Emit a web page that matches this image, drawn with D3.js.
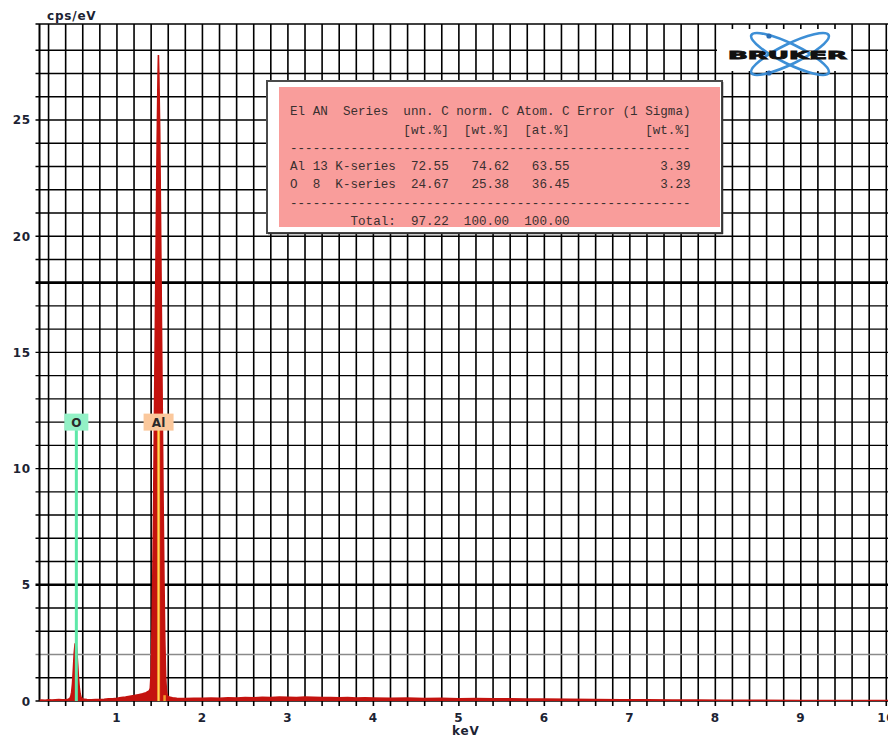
<!DOCTYPE html>
<html><head><meta charset="utf-8">
<script src="https://cdn.jsdelivr.net/npm/d3@7"></script>
<style>body{margin:0;background:#fff}svg{display:block}</style>
</head><body><svg id="c" width="888" height="737"></svg>
<script>
// ---------- DATA ----------
const xTickLabels = [1,2,3,4,5,6,7,8,9,10];
const yTickLabels = [0,5,10,15,20,25];
const spectrum = [
 [0.094,0.03],[0.12,0.04],[0.16,0.03],[0.2,0.05],[0.24,0.04],[0.28,0.05],[0.32,0.06],[0.36,0.05],[0.4,0.06],[0.43,0.07],
 [0.45,0.12],[0.46,0.2],[0.47,0.38],[0.48,0.75],[0.49,1.35],[0.5,2.05],[0.51,2.45],[0.52,2.5],[0.53,2.2],[0.54,1.6],
 [0.55,1.0],[0.56,0.55],[0.57,0.3],[0.58,0.16],[0.6,0.08],[0.65,0.06],[0.7,0.05],[0.75,0.06],[0.8,0.06],[0.85,0.07],
 [0.9,0.09],[0.95,0.1],[1.0,0.12],[1.05,0.15],[1.1,0.17],[1.15,0.2],[1.2,0.23],[1.25,0.27],[1.3,0.31],[1.34,0.36],
 [1.37,0.42],[1.38,0.45],[1.39,0.55],[1.40,1.2],[1.41,3.0],[1.42,5.5],[1.43,8.8],[1.44,12.8],[1.45,16.5],[1.46,20.3],
 [1.47,24.0],[1.48,26.8],[1.485,27.8],[1.49,27.0],[1.50,24.6],[1.51,20.8],[1.52,16.6],[1.53,12.6],[1.54,8.6],[1.55,5.2],
 [1.56,2.6],[1.57,1.0],[1.58,0.4],[1.59,0.22],[1.61,0.17],[1.65,0.14],[1.7,0.12],[1.8,0.11],[1.9,0.12],[2.0,0.12],
 [2.1,0.13],[2.2,0.12],[2.3,0.14],[2.4,0.13],[2.5,0.15],[2.6,0.14],[2.7,0.16],[2.8,0.15],[2.9,0.17],[3.0,0.16],
 [3.1,0.15],[3.2,0.17],[3.3,0.16],[3.4,0.15],[3.5,0.15],[3.6,0.14],[3.7,0.15],[3.8,0.13],[3.9,0.14],[4.0,0.13],
 [4.2,0.12],[4.4,0.13],[4.6,0.11],[4.8,0.12],[5.0,0.10],[5.2,0.11],[5.4,0.09],[5.6,0.10],[5.8,0.08],[6.0,0.08],
 [6.3,0.07],[6.6,0.06],[6.9,0.05],[7.2,0.05],[7.5,0.04],[7.8,0.04],[8.1,0.03],[8.5,0.03],[9.0,0.02],[9.5,0.02],[10.02,0.02]
];
const markerNames = ["O","Al"];
const markerKeV = [0.525, 1.487];
const markerLabelLevel = [12, 12];
const markerLine = ["#5ee8a8", "#f39a2c"];
const markerBox = ["#93f1c6", "#fbc89c"];
const alKbKeV = 1.557, alKbHeight = 0.25;

const tableHeader1 = "El AN  Series  unn. C norm. C Atom. C Error (1 Sigma)";
const tableHeader2 = ["[wt.%]","[wt.%]","[at.%]","[wt.%]"];
const tableEl = ["Al","O"];
const tableAN = [13, 8];
const tableSeries = ["K-series","K-series"];
const tableUnn = ["72.55","24.67"];
const tableNorm = ["74.62","25.38"];
const tableAtom = ["63.55","36.45"];
const tableErr = ["3.39","3.23"];
const tableTotal = ["97.22","100.00","100.00"];

// ---------- LAYOUT ----------
const svg = d3.select("#c");
const x = d3.scaleLinear().domain([0.094, 10.02]).range([39.5, 888]);
const y = d3.scaleLinear().domain([0, 29.13]).range([701, 24]);
const L = x.range()[0], R = 888, T = y.range()[1], B = y.range()[0];

svg.append("rect").attr("width",888).attr("height",737).attr("fill","#fff");

// grid: vertical every 0.2 keV
const vVals = d3.range(1, 51).map(i => +(i*0.2).toFixed(1));
const g = svg.append("g");
g.selectAll(".v").data(vVals).join("line")
  .attr("x1", d => x(d)).attr("x2", d => x(d))
  .attr("y1", T).attr("y2", B + 5)
  .attr("stroke", "#000").attr("stroke-width", 1.6);
// horizontal every 1 cps/eV
const hVals = d3.range(1, 29);
g.selectAll(".h").data(hVals).join("line")
  .attr("x1", L - 4).attr("x2", R)
  .attr("y1", d => y(d)).attr("y2", d => y(d))
  .attr("stroke", d => d === 2 ? "#8a8a8a" : "#000")
  .attr("stroke-width", d => (d === 5 || d === 18) ? 2.6 : 1.4);
// top border, left axis, bottom axis
g.append("line").attr("x1", L - 4).attr("x2", R).attr("y1", T).attr("y2", T).attr("stroke","#000").attr("stroke-width",1.6);
g.append("line").attr("x1", L).attr("x2", L).attr("y1", T).attr("y2", B).attr("stroke","#000").attr("stroke-width",2);
g.append("line").attr("x1", L - 4).attr("x2", R).attr("y1", B).attr("y2", B).attr("stroke","#000").attr("stroke-width",1.4);

// logo background
svg.append("rect").attr("x",717).attr("y",29).attr("width",134).attr("height",42).attr("fill","#fff");

// spectrum
svg.append("clipPath").attr("id","clip").append("rect").attr("x",L).attr("y",T).attr("width",R-L).attr("height",B-T);
const area = d3.area().x(d => x(d[0])).y0(y(0)).y1(d => y(d[1]));
const line = d3.line().x(d => x(d[0])).y(d => y(d[1]));
const sg = svg.append("g").attr("clip-path","url(#clip)");
sg.append("path").datum(spectrum).attr("d", area).attr("fill","#c4130f");
sg.append("path").datum(spectrum).attr("d", line).attr("fill","none").attr("stroke","#c4130f").attr("stroke-width",1.6);

// element markers
const mk = svg.append("g");
markerNames.forEach((n, i) => {
  const cx = x(markerKeV[i]);
  const ly = y(markerLabelLevel[i]);
  mk.append("line").attr("x1",cx).attr("x2",cx).attr("y1",ly+8).attr("y2",B)
    .attr("stroke",markerLine[i]).attr("stroke-width",3);
  if (n === "Al") {
    mk.append("line").attr("x1",cx).attr("x2",cx).attr("y1",ly+8).attr("y2",B)
      .attr("stroke","#ffd860").attr("stroke-width",1);
  }
  const w = n.length === 1 ? 24 : 30;
  mk.append("rect").attr("x",cx - w/2).attr("y",ly - 8.5).attr("width",w).attr("height",17)
    .attr("fill",markerBox[i]);
  mk.append("text").attr("x",cx).attr("y",ly + 4.5).attr("text-anchor","middle")
    .attr("font-family","DejaVu Sans").attr("font-size",12).attr("font-weight","bold")
    .attr("fill","#2a2a2a").text(n);
});
mk.append("line").attr("x1",x(alKbKeV)).attr("x2",x(alKbKeV)).attr("y1",y(alKbHeight)).attr("y2",B)
  .attr("stroke","#f39a2c").attr("stroke-width",2.5);

// axis labels
const lab = svg.append("g").attr("font-family","DejaVu Sans").attr("font-size",12)
  .attr("font-weight","bold").attr("fill","#1c2333").attr("letter-spacing",0.8);
lab.selectAll(".yl").data(yTickLabels).join("text")
  .attr("x", 31).attr("y", d => y(d) + 4.5).attr("text-anchor","end").text(d => d);
lab.selectAll(".xl").data(xTickLabels).join("text")
  .attr("x", d => x(d)).attr("y", 722).attr("text-anchor","middle").text(d => d);
lab.append("text").attr("x",47).attr("y",20).text("cps/eV");
lab.append("text").attr("x",452).attr("y",735).text("keV");

// results table
svg.append("rect").attr("x",267).attr("y",81).attr("width",455).attr("height",152)
  .attr("fill","#fff").attr("stroke","#4a4a4a").attr("stroke-width",2);
svg.append("line").attr("x1",722.5).attr("x2",722.5).attr("y1",82).attr("y2",234).attr("stroke","#333").attr("stroke-width",1.5);
svg.append("line").attr("x1",268).attr("x2",723).attr("y1",233.5).attr("y2",233.5).attr("stroke","#333").attr("stroke-width",1.5);
svg.append("rect").attr("x",279).attr("y",87).attr("width",441).attr("height",140).attr("fill","#f99d9b");
const pad = (s, n) => String(s).padStart(n);
const padR = (s, n) => String(s).padEnd(n);
const dashes = "-".repeat(53);
const rows = [tableHeader1,
  " ".repeat(15) + tableHeader2[0] + "  " + tableHeader2[1] + "  " + tableHeader2[2] + " ".repeat(10) + tableHeader2[3],
  dashes];
tableEl.forEach((e, i) => {
  rows.push(padR(e,3) + padR(tableAN[i],3) + tableSeries[i] + pad(tableUnn[i],7) + pad(tableNorm[i],8) + pad(tableAtom[i],8) + pad(tableErr[i],16));
});
rows.push(dashes);
rows.push(" ".repeat(8) + "Total:" + pad(tableTotal[0],7) + pad(tableTotal[1],8) + pad(tableTotal[2],8));
const rowY = [115, 134, 152, 170, 188, 207, 225];
svg.append("g").selectAll("text").data(rows).join("text")
  .attr("x",290).attr("y",(d,i) => rowY[i])
  .attr("font-family","Liberation Mono, monospace").attr("font-size",12.6)
  .attr("fill","#3a3030").style("white-space","pre").text(d => d);

// logo
const logo = svg.append("g");
[26, -26].forEach(a => {
  logo.append("ellipse").attr("cx",790).attr("cy",54).attr("rx",43).attr("ry",10)
    .attr("transform",`rotate(${a},790,54)`).attr("fill","none").attr("stroke","#3d8fd6").attr("stroke-width",2.6);
});
logo.append("circle").attr("cx",769).attr("cy",36).attr("r",2.6).attr("fill","#2a6fb8");
logo.append("circle").attr("cx",769).attr("cy",73).attr("r",2.6).attr("fill","#2a6fb8");
logo.append("text").attr("x",728).attr("y",59).attr("textLength",119).attr("lengthAdjust","spacingAndGlyphs")
  .attr("font-family","DejaVu Sans").attr("font-weight","bold").attr("font-size",10.5)
  .attr("fill","#111").attr("stroke","#111").attr("stroke-width",0.8).text("BRUKER");
</script></body></html>
